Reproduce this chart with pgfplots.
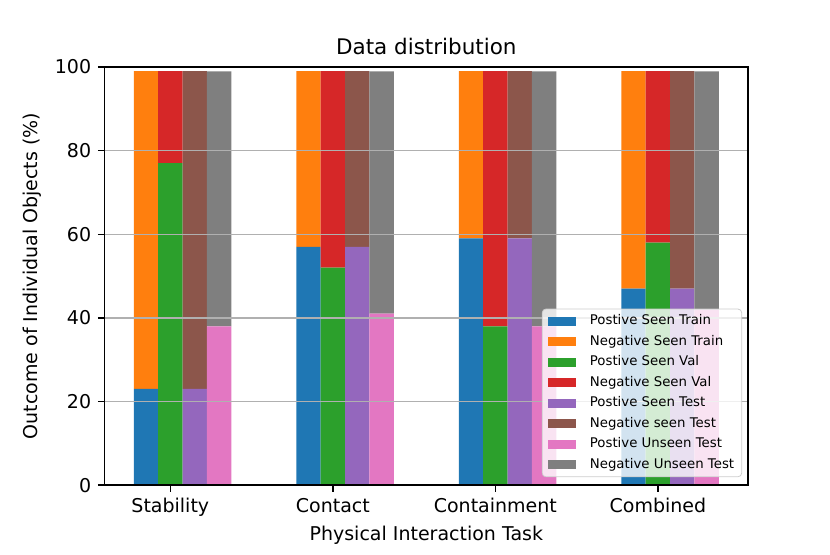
\documentclass[border=0pt]{standalone}
\usepackage{fontspec}
\setmainfont{DejaVu Sans}
\usepackage{pgfplots}
\usepackage{pgfplotstable}
\pgfplotsset{compat=1.18}
\definecolor{c1}{HTML}{1F77B4}
\definecolor{c2}{HTML}{FF7F0E}
\definecolor{c3}{HTML}{2CA02C}
\definecolor{c4}{HTML}{D62728}
\definecolor{c5}{HTML}{9467BD}
\definecolor{c6}{HTML}{8C564B}
\definecolor{c7}{HTML}{E377C2}
\definecolor{c8}{HTML}{7F7F7F}
\definecolor{gridc}{HTML}{B0B0B0}
\pgfplotstableread{
x tp tn vp vn sp sn up un
0 23 76 77 22 23 76 38 61
1 57 42 52 47 57 42 41 58
2 59 40 38 61 59 40 38 61
3 47 52 58 41 47 52 42 57
}\datatable
\pgfplotsset{
  base/.style={
    at={(0,0)}, anchor=south west,
    scale only axis,
    width=338.7pt, height=220pt,
    xmin=-0.405, xmax=3.555,
    ymin=0, ymax=100,
    ybar stacked,
    bar width=0.15,
  },
  hidden/.style={base, hide axis},
}
\begin{document}
\begin{tikzpicture}
\begin{axis}[hidden]
\addplot+[fill=c1, draw=none, bar shift=-0.15] table[x=x, y=tp] {\datatable};
\addplot+[fill=c2, draw=none, bar shift=-0.15] table[x=x, y=tn] {\datatable};
\end{axis}
\begin{axis}[hidden]
\addplot+[fill=c3, draw=none, bar shift=0] table[x=x, y=vp] {\datatable};
\addplot+[fill=c4, draw=none, bar shift=0] table[x=x, y=vn] {\datatable};
\end{axis}
\begin{axis}[hidden]
\addplot+[fill=c5, draw=none, bar shift=0.15] table[x=x, y=sp] {\datatable};
\addplot+[fill=c6, draw=none, bar shift=0.15] table[x=x, y=sn] {\datatable};
\end{axis}
\begin{axis}[
  base,
  xtick={0,1,2,3},
  xticklabels={Stability,Contact,Containment,Combined},
  ytick={0,20,40,60,80,100},
  tick align=outside,
  xtick pos=bottom, ytick pos=left,
  major tick length=3.5pt,
  every tick/.style={black, line width=0.8pt},
  axis line style={line width=0.8pt},
  ymajorgrids,
  grid style={gridc, line width=0.8pt},
  axis on top,
  /pgf/number format/assume math mode=true,
  ticklabel style={font=\fontsize{10}{12}\selectfont},
  label style={font=\fontsize{10}{12}\selectfont},
  xlabel={Physical Interaction Task},
  xlabel style={yshift=2pt},
  ylabel={Outcome of Individual Objects (\%)},
  title={Data distribution},
  title style={font=\fontsize{11.3}{13}\selectfont, at={(0.5,1)}, anchor=base, yshift=0.4pt},
  legend cell align=left,
  legend style={at={(0.9907,0.019)}, anchor=south east,
    font=\fontsize{7}{8}\selectfont,
    draw=black!20, rounded corners=2pt, fill=white, fill opacity=0.8, text opacity=1,
    inner xsep=3pt, inner ysep=2pt, row sep=2.1pt,
    nodes={inner sep=1pt, text height=5.2pt, text depth=1.5pt},
    /tikz/every odd column/.append style={column sep=6.5pt}},
  legend image code/.code={\fill[#1, fill opacity=1, sharp corners] (0pt,-2.4pt) rectangle (14.6pt,2.4pt);},
]
\addlegendimage{fill=c1, draw=none}
\addlegendimage{fill=c2, draw=none}
\addlegendimage{fill=c3, draw=none}
\addlegendimage{fill=c4, draw=none}
\addlegendimage{fill=c5, draw=none}
\addlegendimage{fill=c6, draw=none}
\addplot+[fill=c7, draw=none, bar shift=0.3] table[x=x, y=up] {\datatable};
\addplot+[fill=c8, draw=none, bar shift=0.3] table[x=x, y=un] {\datatable};
\legend{Postive Seen Train, Negative Seen Train, Postive Seen Val, Negative Seen Val, Postive Seen Test, Negative seen Test, Postive Unseen Test, Negative Unseen Test}
\end{axis}
\path (0,0) ++(-55pt,-36.3pt) rectangle ++(436.8pt,291.6pt);
\end{tikzpicture}
\end{document}
